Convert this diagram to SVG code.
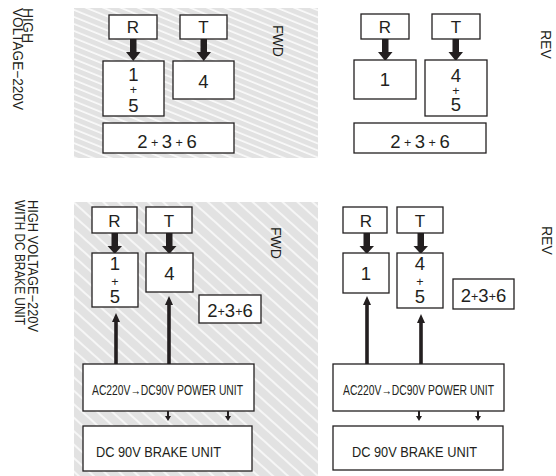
<svg xmlns="http://www.w3.org/2000/svg" width="556" height="476" viewBox="0 0 556 476">
<style>
text{font-family:"Liberation Sans",Arial,sans-serif;fill:#231f20}
.box{fill:#fff;stroke:#231f20;stroke-width:1.3}
.lbl{font-size:17px;text-anchor:middle}
.dg{font-size:18.5px;text-anchor:middle}
.pl{font-size:12.5px}
.side{font-size:14px}
.thick{fill:#231f20}
</style>
<defs>
<pattern id="hatchA" width="7" height="6.5" patternUnits="userSpaceOnUse" patternTransform="rotate(22)">
<rect width="7" height="6.5" fill="#e2e2e2"/>
<line x1="0" y1="1" x2="7" y2="1" stroke="#fff" stroke-width="1.4"/>
</pattern>
<pattern id="hatchB" width="10" height="10" patternUnits="userSpaceOnUse" patternTransform="rotate(42)">
<rect width="10" height="10" fill="#e2e2e2"/>
<line x1="0" y1="1" x2="10" y2="1" stroke="#fff" stroke-width="1.4"/>
</pattern>
</defs>

<g id="backgrounds">
<rect x="74" y="8" width="244" height="150" fill="url(#hatchA)"/>
<rect x="74" y="202" width="244" height="274" fill="url(#hatchB)"/>
</g>

<g id="side-labels">
<text class="side" transform="translate(23,8) rotate(90)">HIGH</text>
<text class="side" transform="translate(12.5,8) rotate(90)" textLength="102" lengthAdjust="spacingAndGlyphs">VOLTAGE−220V</text>
<text class="side" transform="translate(28,200) rotate(90)" textLength="132" lengthAdjust="spacingAndGlyphs">HIGH  VOLTAGE−220V</text>
<text class="side" transform="translate(15,200) rotate(90)" textLength="125" lengthAdjust="spacingAndGlyphs">WITH DC BRAKE UNIT</text>
<text class="side" transform="translate(273,25) rotate(90)">FWD</text>
<text class="side" transform="translate(541,30) rotate(90)">REV</text>
<text class="side" transform="translate(271,227) rotate(90)">FWD</text>
<text class="side" transform="translate(542,226) rotate(90)">REV</text>
</g>

<g id="connectors">
<path class="thick" d="M130,39h6.5v13h4l-7.25,9l-7.25,-9h4z"/>
<path class="thick" d="M200.5,39h6.5v13h4l-7.25,9l-7.25,-9h4z"/>
<path class="thick" d="M382,39h6.5v13h4l-7.25,9l-7.25,-9h4z"/>
<path class="thick" d="M452.5,39h6.5v13h4l-7.25,9l-7.25,-9h4z"/>
<path class="thick" d="M111.5,233h6.5v13h4l-7.25,8l-7.25,-8h4z"/>
<path class="thick" d="M166,233h6.5v13h4l-7.25,8l-7.25,-8h4z"/>
<path class="thick" d="M363.5,233h6.5v13h4l-7.25,8l-7.25,-8h4z"/>
<path class="thick" d="M417.5,233h6.5v13h4l-7.25,8l-7.25,-8h4z"/>
<path class="thick" d="M114.2,364v-42h-2.2l4,-9l4,9h-2.2v42z"/>
<path class="thick" d="M167.2,364v-59h-2.2l4,-9l4,9h-2.2v59z"/>
<path class="thick" d="M365.2,364v-59h-2.2l4,-9l4,9h-2.2v59z"/>
<path class="thick" d="M419.2,364v-41h-2.2l4,-9l4,9h-2.2v41z"/>
<path class="thick" d="M167,411h2v5h2l-3,5l-3,-5h2z"/>
<path class="thick" d="M227,411h2v5h2l-3,5l-3,-5h2z"/>
<path class="thick" d="M418,411h2v5h2l-3,5l-3,-5h2z"/>
<path class="thick" d="M477,411h2v5h2l-3,5l-3,-5h2z"/>
</g>

<g id="tl-R"><rect class="box" x="109" y="15" width="48" height="24"/><text class="lbl" x="133" y="33">R</text></g>
<g id="tl-T"><rect class="box" x="180" y="15" width="47" height="24"/><text class="lbl" x="203.5" y="33">T</text></g>
<g id="tl-15"><rect class="box" x="103" y="61" width="61" height="55"/>
<text class="dg"><tspan x="133.5" y="81">1</tspan><tspan class="pl" x="133.5" y="93.5">+</tspan><tspan x="133.5" y="111.5">5</tspan></text></g>
<g id="tl-4"><rect class="box" x="173" y="61" width="61" height="38"/><text class="dg" x="203.5" y="87.5">4</text></g>
<g id="tl-236"><rect class="box" x="103" y="123" width="131" height="30"/>
<text class="dg" x="167" y="148">2<tspan class="pl" dy="-1"> + </tspan><tspan dy="1">3</tspan><tspan class="pl" dy="-1"> + </tspan><tspan dy="1">6</tspan></text></g>

<g id="tr-R"><rect class="box" x="361" y="14" width="48" height="25"/><text class="lbl" x="385" y="33">R</text></g>
<g id="tr-T"><rect class="box" x="432" y="14" width="48" height="25"/><text class="lbl" x="456" y="33">T</text></g>
<g id="tr-1"><rect class="box" x="354" y="60" width="62" height="39"/><text class="dg" x="385" y="86">1</text></g>
<g id="tr-45"><rect class="box" x="425" y="60" width="62" height="56"/>
<text class="dg"><tspan x="456" y="82">4</tspan><tspan class="pl" x="456" y="94.5">+</tspan><tspan x="456" y="110.5">5</tspan></text></g>
<g id="tr-236"><rect class="box" x="354" y="123" width="132" height="30"/>
<text class="dg" x="420" y="148">2<tspan class="pl" dy="-1"> + </tspan><tspan dy="1">3</tspan><tspan class="pl" dy="-1"> + </tspan><tspan dy="1">6</tspan></text></g>

<g id="bl-R"><rect class="box" x="92" y="207" width="45" height="26"/><text class="lbl" x="114.5" y="227">R</text></g>
<g id="bl-T"><rect class="box" x="146" y="207" width="46" height="26"/><text class="lbl" x="169" y="227">T</text></g>
<g id="bl-15"><rect class="box" x="92" y="253" width="46" height="54"/>
<text class="dg"><tspan x="115" y="270">1</tspan><tspan class="pl" x="115" y="286">+</tspan><tspan x="115" y="302.5">5</tspan></text></g>
<g id="bl-4"><rect class="box" x="146" y="253" width="47" height="39"/><text class="dg" x="169.5" y="280">4</text></g>
<g id="bl-236"><rect class="box" x="199" y="295" width="62" height="28"/>
<text class="dg" x="230" y="317">2<tspan class="pl" dy="-1">+</tspan><tspan dy="1">3</tspan><tspan class="pl" dy="-1">+</tspan><tspan dy="1">6</tspan></text></g>
<g id="bl-power"><rect class="box" x="83" y="364" width="171" height="47"/>
<text x="92" y="395" font-size="14" textLength="151" lengthAdjust="spacingAndGlyphs">AC220V→DC90V  POWER  UNIT</text></g>
<g id="bl-brake"><rect class="box" x="83" y="426" width="169" height="45"/>
<text x="96" y="457" font-size="15.5" textLength="125" lengthAdjust="spacingAndGlyphs">DC 90V  BRAKE UNIT</text></g>

<g id="br-R"><rect class="box" x="343" y="207" width="44" height="26"/><text class="lbl" x="366" y="227">R</text></g>
<g id="br-T"><rect class="box" x="397" y="207" width="46" height="26"/><text class="lbl" x="420" y="227">T</text></g>
<g id="br-1"><rect class="box" x="343" y="253" width="46" height="40"/><text class="dg" x="366" y="279.5">1</text></g>
<g id="br-45"><rect class="box" x="397" y="253" width="46" height="55"/>
<text class="dg"><tspan x="420" y="270">4</tspan><tspan class="pl" x="420" y="286">+</tspan><tspan x="420" y="302.5">5</tspan></text></g>
<g id="br-236"><rect class="box" x="453" y="279" width="61" height="30"/>
<text class="dg" x="483.5" y="302">2<tspan class="pl" dy="-1">+</tspan><tspan dy="1">3</tspan><tspan class="pl" dy="-1">+</tspan><tspan dy="1">6</tspan></text></g>
<g id="br-power"><rect class="box" x="333" y="364" width="171" height="47"/>
<text x="343" y="395" font-size="14" textLength="151" lengthAdjust="spacingAndGlyphs">AC220V→DC90V  POWER  UNIT</text></g>
<g id="br-brake"><rect class="box" x="333" y="426" width="170" height="44"/>
<text x="352" y="457" font-size="15.5" textLength="125" lengthAdjust="spacingAndGlyphs">DC 90V  BRAKE UNIT</text></g>
</svg>
